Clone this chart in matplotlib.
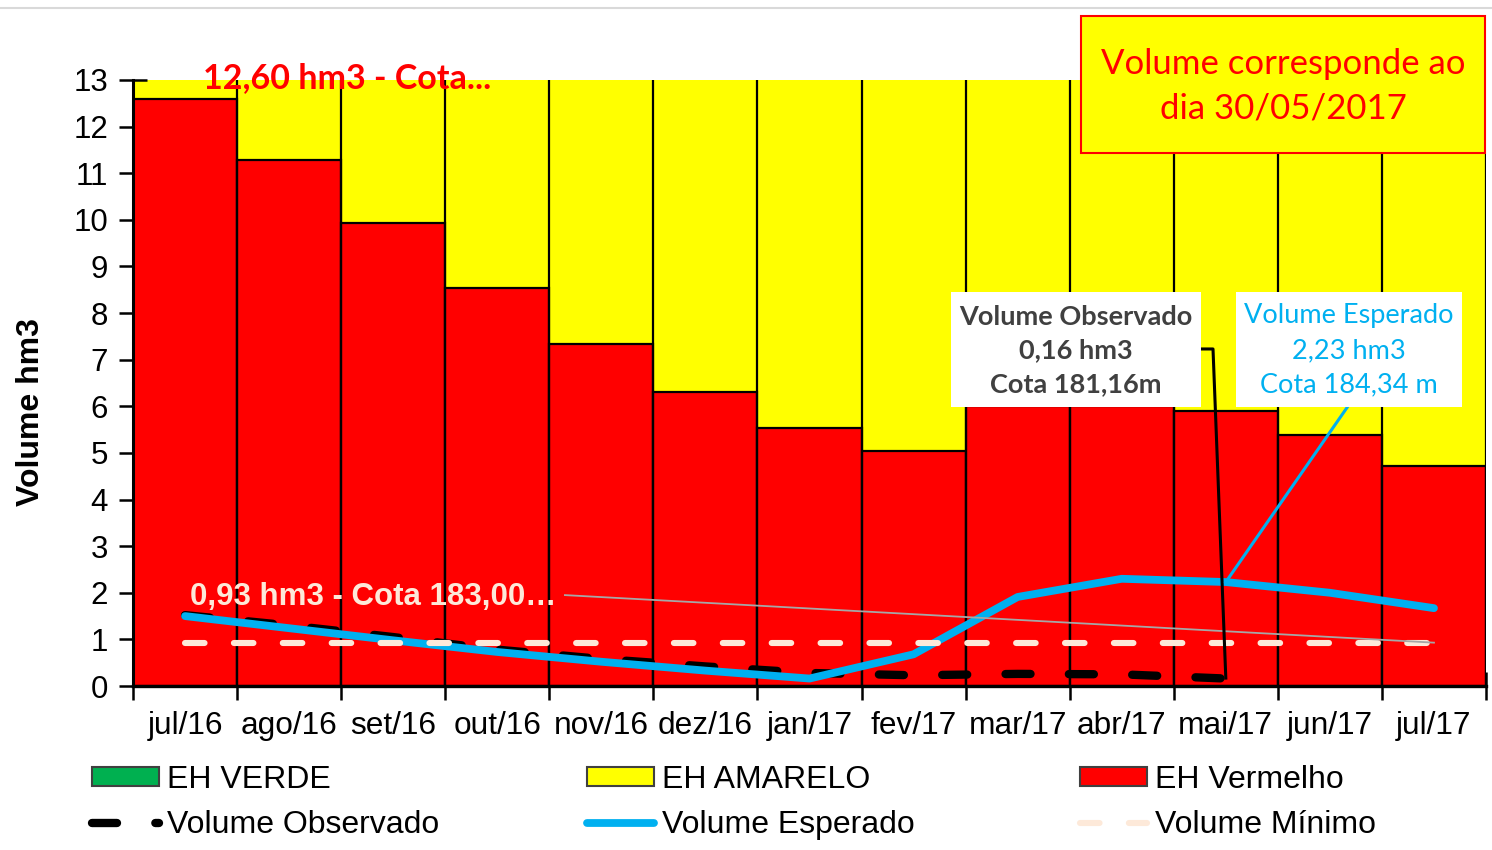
import numpy as np
import matplotlib
matplotlib.use("Agg")
import matplotlib.pyplot as plt
from matplotlib.patches import Rectangle, Patch
from matplotlib.lines import Line2D

# ---------------- data ----------------
meses = ['jul/16', 'ago/16', 'set/16', 'out/16', 'nov/16', 'dez/16', 'jan/17',
         'fev/17', 'mar/17', 'abr/17', 'mai/17', 'jun/17', 'jul/17']
eh_vermelho = [12.60, 11.29, 9.94, 8.54, 7.34, 6.31, 5.54, 5.04, 6.00, 6.00, 5.90, 5.38, 4.71]
eh_amarelo = [0.40, 1.71, 3.06, 4.46, 5.66, 6.69, 7.46, 7.96, 7.00, 7.00, 7.10, 7.62, 8.29]
vol_observado = [1.52, 1.30, 1.05, 0.78, 0.58, 0.42, 0.28, 0.23, 0.26, 0.25, 0.16]
vol_esperado = [1.50, 1.24, 0.98, 0.73, 0.52, 0.33, 0.16, 0.68, 1.91, 2.30, 2.23, 2.00, 1.67]
vol_minimo = [0.93] * 13
y_ticks = list(range(0, 14))

C_RED = '#FF0000'
C_YEL = '#FFFF00'
C_GRN = '#00B050'
C_BLUE = '#00B0F0'
C_PEACH = '#FDE9D9'

plt.rcParams['font.family'] = ['Liberation Sans', 'DejaVu Sans']

fig = plt.figure(figsize=(14.92, 8.5), dpi=100)
ax = fig.add_axes([133 / 1492, 1 - 686 / 850, (1486 - 133) / 1492, (686 - 80) / 850])

x = np.arange(len(meses))
ax.bar(x, eh_vermelho, width=1.0, color=C_RED, edgecolor='black', linewidth=1.6, zorder=2)
ax.bar(x, eh_amarelo, bottom=eh_vermelho, width=1.0, color=C_YEL, linewidth=0, zorder=1)
ax.vlines(np.arange(len(meses) + 1) - 0.5, 0, 13, colors='black', linewidth=1.6, zorder=2.5)

# lines
xo = np.arange(len(vol_observado))
ax.plot(xo, vol_observado, color='black', lw=6, dashes=(3.0, 4.6),
        dash_capstyle='round', solid_capstyle='round', zorder=4)
ax.plot(x, vol_esperado, color=C_BLUE, lw=5.6, solid_capstyle='round',
        solid_joinstyle='round', zorder=5)
ax.plot(x, vol_minimo, color=C_PEACH, lw=4.4, dashes=(3.2, 4.8),
        dash_capstyle='round', zorder=6)

ax.set_xlim(-0.5, len(meses) - 0.5)
ax.set_ylim(0, 13)
ax.set_yticks(y_ticks)
ax.set_yticklabels([str(t) for t in y_ticks], fontsize=22.5)
ax.set_xticks(np.arange(len(meses) + 1) - 0.5)
ax.set_xticklabels([])
ax.set_xticks(x, minor=True)
ax.set_xticklabels(meses, minor=True, fontsize=22.8)
ax.tick_params(axis='x', which='minor', length=0, pad=18)
ax.tick_params(axis='both', which='major', direction='inout', length=20, width=1.8)
ax.tick_params(axis='y', pad=8)
for s in ['top', 'right']:
    ax.spines[s].set_visible(False)
ax.spines['left'].set_linewidth(2.2)
ax.spines['bottom'].set_linewidth(2.4)
ax.spines['left'].set_zorder(3)
ax.spines['bottom'].set_zorder(3)
ax.set_ylabel('Volume hm3', fontsize=23, fontweight='bold')
ax.yaxis.set_label_coords(-0.064, 0.452)

# data labels
ax.text(1.56, 13.04, '12,60 hm3 - Cota...', color=C_RED, fontsize=24.5, fontweight='bold',
        family=['Lato', 'DejaVu Sans'], ha='center', va='center', zorder=8, clip_on=False)
ax.text(0.05, 1.90, '0,93 hm3 - Cota 183,00…', color=C_PEACH, fontsize=22.5,
        fontweight='bold', ha='left', va='center', zorder=8)
ax.plot([3.65, 12.0], [1.95, 0.93], color='#A6A6A6', lw=1.3, zorder=9)

# observed annotation box
ax.add_patch(Rectangle((7.36, 5.99), 2.40, 2.46, facecolor='white', edgecolor='none', zorder=10))
ax.text(8.56, 7.20, 'Volume Observado\n0,16 hm3\nCota 181,16m', color='#404040',
        fontsize=19.5, fontweight='bold', family=['Lato', 'DejaVu Sans'],
        ha='center', va='center', linespacing=1.48, zorder=11)
ax.plot([9.76, 9.877, 10.0], [7.23, 7.23, 0.17], color='black', lw=2.2, zorder=9)

# expected annotation box
ax.add_patch(Rectangle((10.10, 5.99), 2.17, 2.46, facecolor='white', edgecolor='none', zorder=10))
ax.text(11.185, 7.20, 'Volume Esperado\n2,23 hm3\nCota 184,34 m', color=C_BLUE,
        fontsize=19.5, family=['Lato', 'DejaVu Sans'],
        ha='center', va='center', linespacing=1.48, zorder=11)
ax.plot([11.17, 10.0], [5.99, 2.23], color=C_BLUE, lw=2.2, zorder=9)

# top-right note box
fig.patches.append(Rectangle((1081 / 1492, 1 - 153 / 850), (1485 - 1081) / 1492, (153 - 16) / 850,
                             transform=fig.transFigure, facecolor=C_YEL, edgecolor=C_RED,
                             linewidth=1.5, zorder=20))
fig.text(1283 / 1492, 1 - 86 / 850, 'Volume corresponde ao\ndia 30/05/2017', color=C_RED,
         fontsize=25, family=['Lato', 'DejaVu Sans'], ha='center', va='center',
         linespacing=1.5, zorder=21)

# top frame line
fig.add_artist(Line2D([0, 1], [1 - 7.5 / 850, 1 - 7.5 / 850], transform=fig.transFigure,
                      color='#D9D9D9', lw=1.5))

# legends (three columns)
h_verde = Patch(facecolor=C_GRN, edgecolor='#404040', linewidth=1.5)
h_amar = Patch(facecolor=C_YEL, edgecolor='#404040', linewidth=1.5)
h_verm = Patch(facecolor=C_RED, edgecolor='#404040', linewidth=1.5)
h_obs = Line2D([], [], color='black', lw=6, dashes=(3.0, 4.6), dash_capstyle='round')
h_esp = Line2D([], [], color=C_BLUE, lw=5.6, solid_capstyle='round')
h_min = Line2D([], [], color=C_PEACH, lw=4.4, dashes=(3.2, 4.8), dash_capstyle='round')

cols = [([h_verde, h_obs], ['EH VERDE', 'Volume Observado'], 92),
        ([h_amar, h_esp], ['EH AMARELO', 'Volume Esperado'], 587),
        ([h_verm, h_min], ['EH Vermelho', 'Volume Mínimo'], 1080)]
for handles, labels, px in cols:
    leg = fig.legend(handles, labels, loc='upper left',
                     bbox_to_anchor=(px / 1492, 1 - 765 / 850), frameon=False,
                     fontsize=23, handlelength=2.1, handleheight=0.55, handletextpad=0.25,
                     labelspacing=0.48, borderpad=0, borderaxespad=0)

fig.savefig('out.png', dpi=100)
